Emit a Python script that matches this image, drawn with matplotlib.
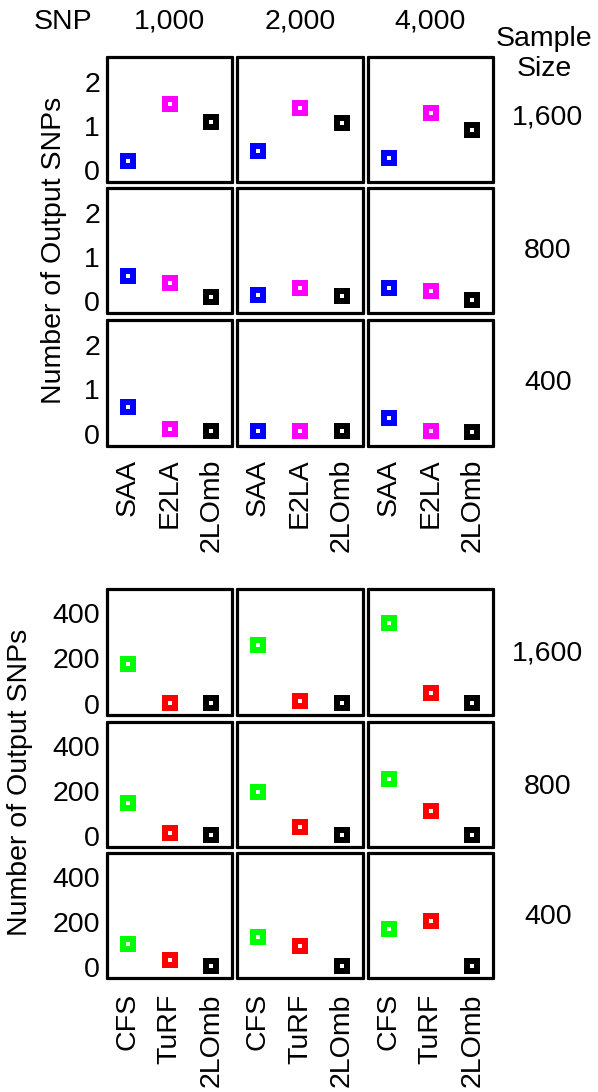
import matplotlib
matplotlib.use("Agg")
import matplotlib.pyplot as plt

plt.rcParams['font.family'] = ['Liberation Sans', 'DejaVu Sans']

snp_sizes = ["1,000", "2,000", "4,000"]
sample_sizes = ["1,600", "800", "400"]

top_methods = ["SAA", "E2LA", "2LOmb"]
top_colors = ["#0000ff", "#ff00ff", "#000000"]
# rows: sample size 1600, 800, 400 ; cols: SNP 1000, 2000, 4000 ; values per method
saa = [[0.20, 0.43, 0.27], [0.57, 0.14, 0.30], [0.61, 0.07, 0.36]]
e2la = [[1.50, 1.41, 1.30], [0.41, 0.30, 0.23], [0.11, 0.07, 0.05]]
lomb_top = [[1.09, 1.07, 0.91], [0.09, 0.11, 0.02], [0.05, 0.05, 0.04]]

bot_methods = ["CFS", "TuRF", "2LOmb"]
bot_colors = ["#00ff00", "#ff0000", "#000000"]
cfs = [[176, 258, 355], [144, 193, 251], [101, 134, 167]]
turf = [[3, 10, 47], [10, 37, 109], [32, 92, 203]]
lomb_bot = [[3, 3, 3], [4, 4, 4], [3, 2, 2]]

W, H = 598, 1092
fig = plt.figure(figsize=(W / 100, H / 100), dpi=100)

col_x = [(107, 232), (237, 363), (368, 493)]
top_rows = [(57, 182), (188, 313), (320, 446)]
bot_rows = [(589, 715), (722, 847), (853, 978)]

FS = 20.5


def make_block(rows, series, methods, colors, ylim, yticks, ylabels, xpad):
    for r, (y0, y1) in enumerate(rows):
        for c, (x0, x1) in enumerate(col_x):
            ax = fig.add_axes([x0 / W, 1 - y1 / H, (x1 - x0) / W, (y1 - y0) / H])
            vals = [s[r][c] for s in series]
            for i, (v, col) in enumerate(zip(vals, colors)):
                ax.plot([i + 1], [v], marker='s', markersize=11, color=col,
                        markeredgewidth=0, linestyle='none')
                ax.plot([i + 1], [v], marker='s', markersize=2.2, color='white',
                        markeredgewidth=0, linestyle='none')
            ax.set_xlim(0.5, 3.5)
            ax.set_ylim(*ylim)
            ax.set_xticks([1, 2, 3])
            ax.set_yticks(yticks)
            for sp in ax.spines.values():
                sp.set_linewidth(2.3)
                sp.set_capstyle('round')
                sp.set_joinstyle('round')
            ax.tick_params(direction='in', length=0)
            if c == 0:
                ax.set_yticklabels(ylabels, fontsize=FS)
                ax.tick_params(axis='y', pad=5)
            else:
                ax.set_yticklabels([])
            if r == len(rows) - 1:
                ax.set_xticklabels(methods, rotation=90, fontsize=FS, va='top')
                ax.tick_params(axis='x', pad=xpad)
            else:
                ax.set_xticklabels([])


make_block(top_rows, [saa, e2la, lomb_top], top_methods, top_colors,
           (-0.28, 2.57), [0, 1, 2], ["0", "1", "2"], 9)
make_block(bot_rows, [cfs, turf, lomb_bot], bot_methods, bot_colors,
           (-50, 505), [0, 200, 400], ["0", "200", "400"], 11)

# column headers
fig.text(63 / W, 1 - 22 / H, "SNP", fontsize=FS, ha='center', va='center')
for (x0, x1), s in zip(col_x, snp_sizes):
    fig.text((x0 + x1) / 2 / W, 1 - 22 / H, s, fontsize=FS, ha='center', va='center')
fig.text(544 / W, 1 - 54 / H, "Sample\nSize", fontsize=FS, ha='center', va='center',
         linespacing=1.25)

# row labels
for (y0, y1), s, yoff in zip(top_rows, sample_sizes, [-2, 0, 0]):
    fig.text(548 / W, 1 - ((y0 + y1) / 2 + yoff - 0) / H, s, fontsize=FS,
             ha='center', va='center')
for (y0, y1), s in zip(bot_rows, sample_sizes):
    fig.text(548 / W, 1 - ((y0 + y1) / 2 + 2) / H, s, fontsize=FS,
             ha='center', va='center')

fig.text(54 / W, 1 - 250 / H, "Number of Output SNPs", fontsize=FS, rotation=90,
         ha='center', va='center')
fig.text(20 / W, 1 - 782 / H, "Number of Output SNPs", fontsize=FS, rotation=90,
         ha='center', va='center')

fig.savefig("out.png", dpi=100, facecolor='white')
